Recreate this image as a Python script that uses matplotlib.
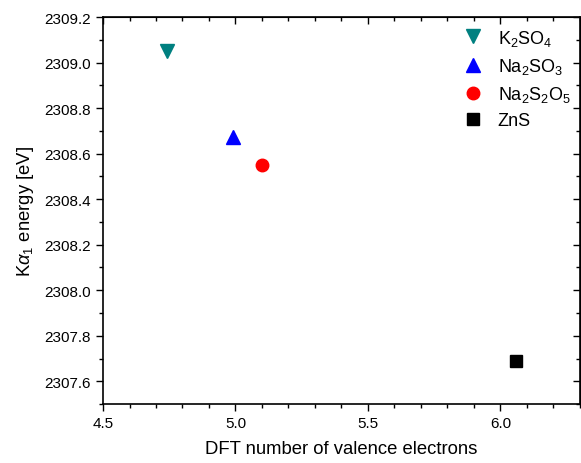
import matplotlib.pyplot as plt
from matplotlib.ticker import MultipleLocator

plt.rcParams['font.family'] = ['Liberation Sans', 'DejaVu Sans']
plt.rcParams['mathtext.fontset'] = 'custom'
plt.rcParams['mathtext.rm'] = 'Liberation Sans'
plt.rcParams['mathtext.it'] = 'Liberation Sans:italic'

# valence electrons (DFT) vs. K-alpha1 energy
compounds = [r'K$_2$SO$_4$', r'Na$_2$SO$_3$', r'Na$_2$S$_2$O$_5$', 'ZnS']
electrons = [4.74, 4.99, 5.10, 6.06]
energy = [2309.05, 2308.675, 2308.55, 2307.69]
markers = ['v', '^', 'o', 's']
colors = ['#008080', '#0000ff', '#ff0000', '#000000']
sizes = [10.5, 10.5, 9, 8.5]

fig = plt.figure(figsize=(5.81, 4.64), dpi=100)
ax = fig.add_axes([0.1773, 0.127, 0.8207, 0.834])

for name, x, y, m, c, s in zip(compounds, electrons, energy, markers, colors, sizes):
    ax.plot([x], [y], linestyle='none', marker=m, color=c, markersize=s, label=name)

ax.set_xlim(4.5, 6.3)
ax.set_ylim(2307.5, 2309.2)
ax.xaxis.set_major_locator(MultipleLocator(0.5))
ax.xaxis.set_minor_locator(MultipleLocator(0.1))
ax.yaxis.set_major_locator(MultipleLocator(0.2))
ax.yaxis.set_minor_locator(MultipleLocator(0.1))
ax.xaxis.set_major_formatter(lambda v, p: f'{v:.1f}')
ax.yaxis.set_major_formatter(lambda v, p: f'{v:.1f}')
ax.tick_params(which='both', direction='out', width=1.0, labelsize=11)
ax.tick_params(which='major', length=5)
ax.tick_params(which='minor', length=3)

for sp in ax.spines.values():
    sp.set_linewidth(1.2)

# inward ticks on top and right, no labels
top = ax.secondary_xaxis('top')
top.xaxis.set_major_locator(MultipleLocator(0.5))
top.xaxis.set_minor_locator(MultipleLocator(0.1))
top.tick_params(which='both', direction='in', labeltop=False, width=1.0)
top.tick_params(which='major', length=5)
top.tick_params(which='minor', length=3)
right = ax.secondary_yaxis('right')
right.yaxis.set_major_locator(MultipleLocator(0.2))
right.yaxis.set_minor_locator(MultipleLocator(0.1))
right.tick_params(which='both', direction='in', labelright=False, width=1.0)
right.tick_params(which='major', length=5)
right.tick_params(which='minor', length=3)

ax.set_xlabel('DFT number of valence electrons', fontsize=13.3, labelpad=7)
ax.set_ylabel(r'K$\alpha_1$ energy [eV]', fontsize=13.3, labelpad=6)

ax.legend(loc='upper left', bbox_to_anchor=(0.722, 1.005), frameon=False, fontsize=13,
          handletextpad=0.6, labelspacing=0.45, borderaxespad=0.3, handlelength=1.5)

fig.savefig('out.png', dpi=100)
